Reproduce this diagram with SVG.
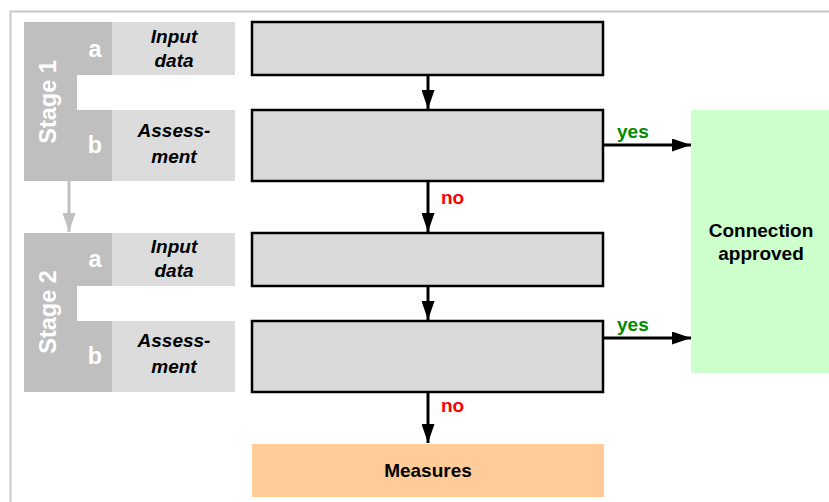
<svg xmlns="http://www.w3.org/2000/svg" width="829" height="502" viewBox="0 0 829 502">
<style>
text{font-family:"Liberation Sans",Arial,sans-serif;font-weight:bold}
.stage{fill:#bfbfbf}
.lab{fill:#dcdcdc}
.box{fill:#d9d9d9;stroke:#000;stroke-width:2.5}
.st{fill:#fff;font-size:23.5px}
.it{font-style:italic;font-size:19px;fill:#000;text-anchor:middle}
.yes{fill:#008a00;font-size:19px}
.no{fill:#ff0000;font-size:19px}
.lbl{font-size:19px;fill:#000;text-anchor:middle}
.conn{stroke:#000;stroke-width:3;fill:none}
</style>
<defs>
<marker id="ah" viewBox="0 0 19 13" refX="19" refY="6.5" markerWidth="19" markerHeight="13" markerUnits="userSpaceOnUse" orient="auto">
<path d="M0,0 L19,6.5 L0,13 Z" fill="#000"/>
</marker>
<marker id="ahg" viewBox="0 0 19 13" refX="19" refY="6.5" markerWidth="19" markerHeight="13" markerUnits="userSpaceOnUse" orient="auto">
<path d="M0,0 L19,6.5 L0,13 Z" fill="#c0c0c0"/>
</marker>
</defs>
<g id="frame">
<line x1="10" y1="11.5" x2="829" y2="11.5" stroke="#c8c8c8" stroke-width="2"/>
<line x1="10.5" y1="11" x2="10.5" y2="502" stroke="#c8c8c8" stroke-width="2"/>
</g>
<g id="stage1">
<rect class="stage" x="24" y="22" width="53" height="159"/>
<rect class="stage" x="76" y="22" width="36" height="53"/>
<rect class="stage" x="76" y="110" width="36" height="71"/>
<text class="st" transform="translate(56,102) rotate(-90)" text-anchor="middle">Stage 1</text>
<text class="st" x="95" y="57" text-anchor="middle">a</text>
<text class="st" x="95" y="153" text-anchor="middle">b</text>
</g>
<g id="label1a">
<rect class="lab" x="112" y="22" width="123" height="53"/>
<text class="it" x="174" y="43">Input</text>
<text class="it" x="174" y="67">data</text>
</g>
<g id="label1b">
<rect class="lab" x="112" y="110" width="123" height="71"/>
<text class="it" x="174" y="137">Assess-</text>
<text class="it" x="174" y="163">ment</text>
</g>
<g id="stage2">
<rect class="stage" x="24" y="233" width="53" height="159"/>
<rect class="stage" x="76" y="233" width="36" height="53"/>
<rect class="stage" x="76" y="321" width="36" height="71"/>
<text class="st" transform="translate(56,312) rotate(-90)" text-anchor="middle">Stage 2</text>
<text class="st" x="95" y="267" text-anchor="middle">a</text>
<text class="st" x="95" y="364" text-anchor="middle">b</text>
</g>
<g id="label2a">
<rect class="lab" x="112" y="233" width="123" height="53"/>
<text class="it" x="174" y="253">Input</text>
<text class="it" x="174" y="277">data</text>
</g>
<g id="label2b">
<rect class="lab" x="112" y="321" width="123" height="71"/>
<text class="it" x="174" y="347">Assess-</text>
<text class="it" x="174" y="373">ment</text>
</g>
<g id="box1"><rect class="box" x="252" y="22" width="351" height="53"/></g>
<g id="box2"><rect class="box" x="252" y="110" width="351" height="71"/></g>
<g id="box3"><rect class="box" x="252" y="233" width="351" height="53"/></g>
<g id="box4"><rect class="box" x="252" y="321" width="351" height="71"/></g>
<g id="approved">
<rect x="691" y="110" width="138" height="263" fill="#ccffcc"/>
<text class="lbl" x="761" y="237">Connection</text>
<text class="lbl" x="761" y="260">approved</text>
</g>
<g id="measures">
<rect x="252" y="444" width="352" height="53" fill="#ffcc99"/>
<text class="lbl" x="428" y="477">Measures</text>
</g>
<g id="connectors">
<line x1="69" y1="181" x2="69" y2="232" stroke="#c0c0c0" stroke-width="3" marker-end="url(#ahg)"/>
<line class="conn" x1="428" y1="75" x2="428" y2="109" marker-end="url(#ah)"/>
<line class="conn" x1="428" y1="181" x2="428" y2="232" marker-end="url(#ah)"/>
<line class="conn" x1="428" y1="286" x2="428" y2="320" marker-end="url(#ah)"/>
<line class="conn" x1="428" y1="392" x2="428" y2="443" marker-end="url(#ah)"/>
<line class="conn" x1="603" y1="145" x2="691" y2="145" marker-end="url(#ah)"/>
<line class="conn" x1="603" y1="338" x2="691" y2="338" marker-end="url(#ah)"/>
<text class="yes" x="617" y="138">yes</text>
<text class="yes" x="617" y="331">yes</text>
<text class="no" x="441" y="204">no</text>
<text class="no" x="441" y="412">no</text>
</g>
</svg>
